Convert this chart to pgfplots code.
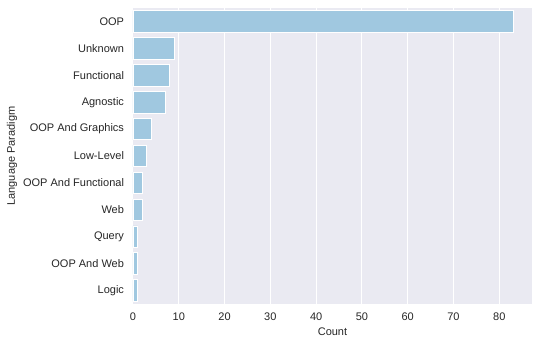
\documentclass[border=0pt]{standalone}
\usepackage{pgfplots}
\pgfplotsset{compat=1.18}
\usepackage{fontspec}
\setmainfont{Liberation Sans}
\definecolor{bgc}{HTML}{EAEAF2}
\definecolor{barc}{HTML}{A0C8E0}
\definecolor{txt}{HTML}{262626}
\begin{document}
\begin{tikzpicture}
\begin{axis}[
    name=ax,
    scale only axis,
    width=399pt, height=296pt,
    xbar, bar width=0.8,
    xmin=0, xmax=87.15,
    ymin=-0.5, ymax=10.5, y dir=reverse,
    ytick={0,...,10},
    yticklabels={OOP,Unknown,Functional,Agnostic,OOP And Graphics,Low-Level,OOP And Functional,Web,Query,OOP And Web,Logic},
    xtick={0,10,...,80},
    axis background/.style={fill=bgc},
    axis line style={draw=none},
    major tick length=0pt,
    xmajorgrids,
    grid style={white, line width=1pt},
    /pgf/number format/assume math mode=true,
    tick label style={font=\fontsize{11}{13}\selectfont, text=txt},
    yticklabel style={xshift=-5.5pt},
    xticklabel style={yshift=-5.5pt},
    label style={font=\fontsize{11}{13}\selectfont, text=txt},
    xlabel={Count},
    ylabel={Language Paradigm},
    x label style={at={(axis description cs:0.5,-0.0946)}, anchor=center},
    y label style={at={(axis description cs:-0.303,0.5)}, anchor=center, rotate=0},
]
\addplot[fill=barc, draw=white, line width=0.8pt] coordinates {
    (83,0) (9,1) (8,2) (7,3) (4,4) (3,5) (2,6) (2,7) (1,8) (1,9) (1,10)
};
\end{axis}
\useasboundingbox ([xshift=-133pt,yshift=-42pt]ax.south west) rectangle ([xshift=8pt,yshift=8pt]ax.north east);
\end{tikzpicture}
\end{document}
